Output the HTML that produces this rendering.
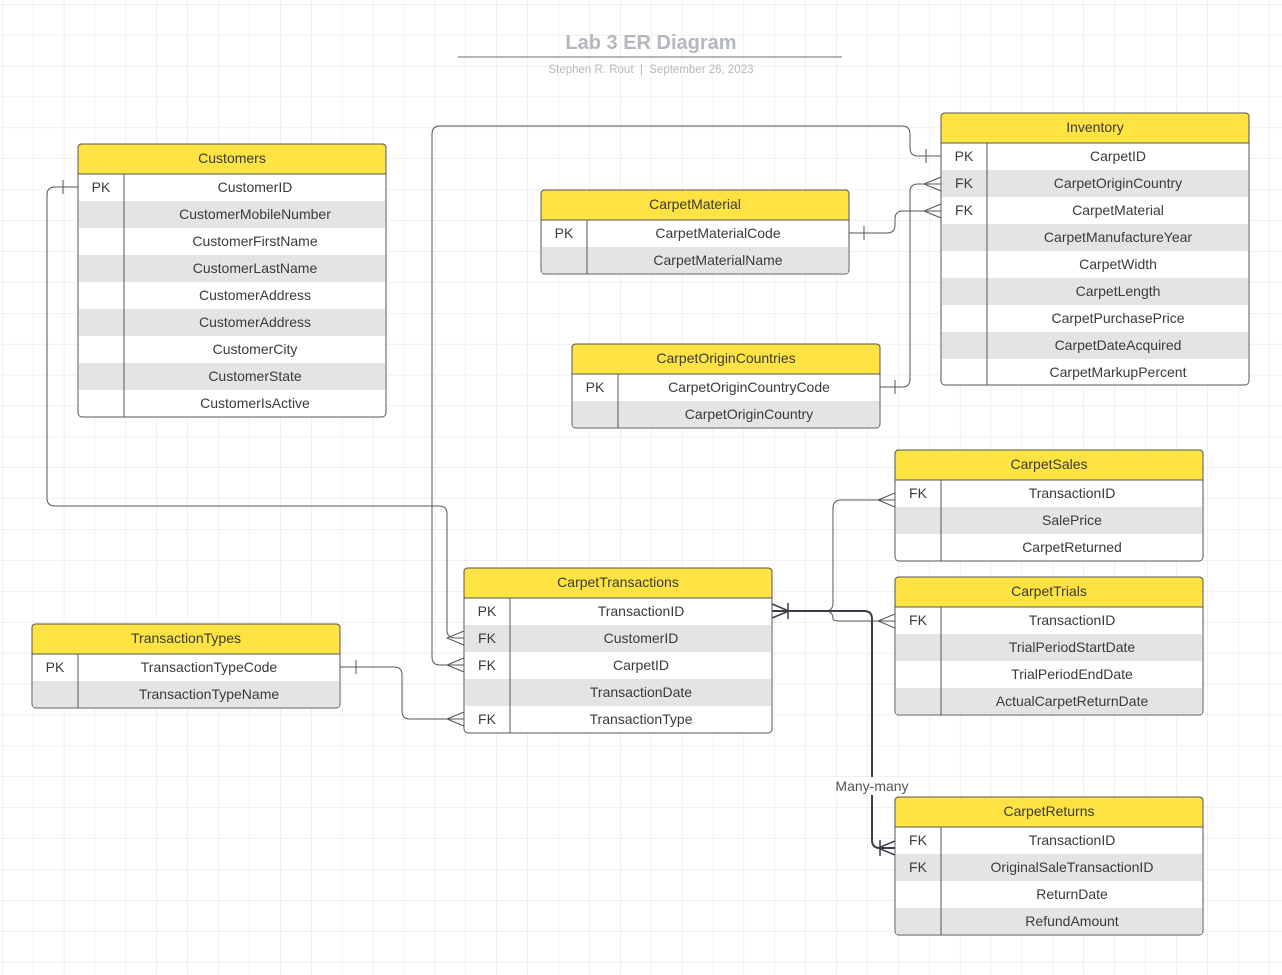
<!DOCTYPE html>
<html><head><meta charset="utf-8"><style>
html,body{margin:0;padding:0;background:#fff}
svg{display:block}
text{font-family:"Liberation Sans",sans-serif;font-size:14px;fill:#3a3a3a}
.h{fill:#ffe342;stroke:#555;stroke-width:1}
.b{fill:#fff;stroke:#555;stroke-width:1}
.g{fill:#e4e4e4}
.c{fill:none;stroke:#555;stroke-width:1}
.t{text-anchor:middle}
</style></head><body>
<svg width="1282" height="975" xmlns="http://www.w3.org/2000/svg">
<defs><pattern id="grid" x="2" y="4" width="30.9" height="30.9" patternUnits="userSpaceOnUse"><path d="M0 0H31M0 0V31" stroke="#e2e2e2" stroke-width="1" fill="none"/></pattern></defs>
<rect width="1282" height="975" fill="url(#grid)"/>

<text x="651" y="49" class="t" style="font-size:20px;font-weight:bold;fill:#b4b8bd">Lab 3 ER Diagram</text>
<line x1="458" y1="57" x2="842" y2="57" stroke="#b4b8bd" stroke-width="2"/>
<text x="651" y="73" class="t" style="font-size:11.5px;fill:#b4b8bd">Stephen R. Rout&#160;&#160;|&#160;&#160;September 26, 2023</text>

<!-- connectors -->
<path class="c" d="M78 187H55Q47 187 47 195V498Q47 506 55 506H439Q447 506 447 514V630Q447 638 455 638H464"/>
<path class="c" d="M63 180V194M464 631L447 638L464 645"/>
<path class="c" d="M941 156H918Q910 156 910 148V134Q910 126 902 126H440Q432 126 432 134V657Q432 665 440 665H464"/>
<path class="c" d="M926 149V163M464 658L447 665L464 672"/>
<path class="c" d="M849 233H887Q895 233 895 225V219Q895 211 903 211H941"/>
<path class="c" d="M864 226V240M941 204L924 211L941 218"/>
<path class="c" d="M880 387H902Q910 387 910 379V192Q910 184 918 184H941"/>
<path class="c" d="M895 380V394M941 177L924 184L941 191"/>
<path class="c" d="M340 667H394Q402 667 402 675V711Q402 719 410 719H464"/>
<path class="c" d="M356 660V674M464 712L447 719L464 726"/>
<path class="c" d="M772 611H825Q833 611 833 603V508Q833 500 841 500H895"/>
<path class="c" d="M895 493L878 500L895 507"/>
<path class="c" d="M825 611Q833 611 833 619Q833 621 841 621H895"/>
<path class="c" d="M895 614L878 621L895 628"/>
<path d="M772 611H864Q872 611 872 619V840Q872 848 880 848H895" fill="none" stroke="#3a3f47" stroke-width="2"/>
<path d="M772 604L789 611L772 618M788 603V619M895 841L878 848L895 855M880 840V856" fill="none" stroke="#3a3f47" stroke-width="1.5"/>
<rect x="836" y="777" width="72" height="18" fill="#fff"/>
<text x="872" y="791" class="t" style="fill:#555">Many-many</text>

<!-- Customers -->
<rect class="b" x="78" y="144" width="308" height="273" rx="4"/>
<rect class="g" x="79" y="201" width="306" height="27"/><rect class="g" x="79" y="255" width="306" height="27"/><rect class="g" x="79" y="309" width="306" height="27"/><rect class="g" x="79" y="363" width="306" height="27"/>
<path class="h" d="M78 174V148Q78 144 82 144H382Q386 144 386 148V174Z"/>
<line x1="124" y1="174" x2="124" y2="417" stroke="#555"/>
<text x="232" y="163" class="t">Customers</text>
<text x="101" y="192" class="t">PK</text>
<text x="255" y="192" class="t">CustomerID</text>
<text x="255" y="219" class="t">CustomerMobileNumber</text>
<text x="255" y="246" class="t">CustomerFirstName</text>
<text x="255" y="273" class="t">CustomerLastName</text>
<text x="255" y="300" class="t">CustomerAddress</text>
<text x="255" y="327" class="t">CustomerAddress</text>
<text x="255" y="354" class="t">CustomerCity</text>
<text x="255" y="381" class="t">CustomerState</text>
<text x="255" y="408" class="t">CustomerIsActive</text>

<!-- Inventory -->
<rect class="b" x="941" y="113" width="308" height="272" rx="4"/>
<rect class="g" x="942" y="170" width="306" height="27"/><rect class="g" x="942" y="224" width="306" height="27"/><rect class="g" x="942" y="278" width="306" height="27"/><rect class="g" x="942" y="332" width="306" height="27"/>
<path class="h" d="M941 143V117Q941 113 945 113H1245Q1249 113 1249 117V143Z"/>
<line x1="987" y1="143" x2="987" y2="385" stroke="#555"/>
<text x="1095" y="132" class="t">Inventory</text>
<text x="964" y="161" class="t">PK</text><text x="964" y="188" class="t">FK</text><text x="964" y="215" class="t">FK</text>
<text x="1118" y="161" class="t">CarpetID</text>
<text x="1118" y="188" class="t">CarpetOriginCountry</text>
<text x="1118" y="215" class="t">CarpetMaterial</text>
<text x="1118" y="242" class="t">CarpetManufactureYear</text>
<text x="1118" y="269" class="t">CarpetWidth</text>
<text x="1118" y="296" class="t">CarpetLength</text>
<text x="1118" y="323" class="t">CarpetPurchasePrice</text>
<text x="1118" y="350" class="t">CarpetDateAcquired</text>
<text x="1118" y="377" class="t">CarpetMarkupPercent</text>

<!-- CarpetMaterial -->
<rect class="b" x="541" y="190" width="308" height="84" rx="4"/>
<rect class="g" x="542" y="247" width="306" height="26"/>
<path class="h" d="M541 220V194Q541 190 545 190H845Q849 190 849 194V220Z"/>
<line x1="587" y1="220" x2="587" y2="274" stroke="#555"/>
<text x="695" y="209" class="t">CarpetMaterial</text>
<text x="564" y="238" class="t">PK</text>
<text x="718" y="238" class="t">CarpetMaterialCode</text>
<text x="718" y="265" class="t">CarpetMaterialName</text>

<!-- CarpetOriginCountries -->
<rect class="b" x="572" y="344" width="308" height="84" rx="4"/>
<rect class="g" x="573" y="401" width="306" height="26"/>
<path class="h" d="M572 374V348Q572 344 576 344H876Q880 344 880 348V374Z"/>
<line x1="618" y1="374" x2="618" y2="428" stroke="#555"/>
<text x="726" y="363" class="t">CarpetOriginCountries</text>
<text x="595" y="392" class="t">PK</text>
<text x="749" y="392" class="t">CarpetOriginCountryCode</text>
<text x="749" y="419" class="t">CarpetOriginCountry</text>

<!-- CarpetSales -->
<rect class="b" x="895" y="450" width="308" height="111" rx="4"/>
<rect class="g" x="896" y="507" width="306" height="27"/>
<path class="h" d="M895 480V454Q895 450 899 450H1199Q1203 450 1203 454V480Z"/>
<line x1="941" y1="480" x2="941" y2="561" stroke="#555"/>
<text x="1049" y="469" class="t">CarpetSales</text>
<text x="918" y="498" class="t">FK</text>
<text x="1072" y="498" class="t">TransactionID</text>
<text x="1072" y="525" class="t">SalePrice</text>
<text x="1072" y="552" class="t">CarpetReturned</text>

<!-- CarpetTrials -->
<rect class="b" x="895" y="577" width="308" height="138" rx="4"/>
<rect class="g" x="896" y="634" width="306" height="27"/><rect class="g" x="896" y="688" width="306" height="26"/>
<path class="h" d="M895 607V581Q895 577 899 577H1199Q1203 577 1203 581V607Z"/>
<line x1="941" y1="607" x2="941" y2="715" stroke="#555"/>
<text x="1049" y="596" class="t">CarpetTrials</text>
<text x="918" y="625" class="t">FK</text>
<text x="1072" y="625" class="t">TransactionID</text>
<text x="1072" y="652" class="t">TrialPeriodStartDate</text>
<text x="1072" y="679" class="t">TrialPeriodEndDate</text>
<text x="1072" y="706" class="t">ActualCarpetReturnDate</text>

<!-- CarpetReturns -->
<rect class="b" x="895" y="797" width="308" height="138" rx="4"/>
<rect class="g" x="896" y="854" width="306" height="27"/><rect class="g" x="896" y="908" width="306" height="26"/>
<path class="h" d="M895 827V801Q895 797 899 797H1199Q1203 797 1203 801V827Z"/>
<line x1="941" y1="827" x2="941" y2="935" stroke="#555"/>
<text x="1049" y="816" class="t">CarpetReturns</text>
<text x="918" y="845" class="t">FK</text><text x="918" y="872" class="t">FK</text>
<text x="1072" y="845" class="t">TransactionID</text>
<text x="1072" y="872" class="t">OriginalSaleTransactionID</text>
<text x="1072" y="899" class="t">ReturnDate</text>
<text x="1072" y="926" class="t">RefundAmount</text>

<!-- CarpetTransactions -->
<rect class="b" x="464" y="568" width="308" height="165" rx="4"/>
<rect class="g" x="465" y="625" width="306" height="27"/><rect class="g" x="465" y="679" width="306" height="27"/>
<path class="h" d="M464 598V572Q464 568 468 568H768Q772 568 772 572V598Z"/>
<line x1="510" y1="598" x2="510" y2="733" stroke="#555"/>
<text x="618" y="587" class="t">CarpetTransactions</text>
<text x="487" y="616" class="t">PK</text><text x="487" y="643" class="t">FK</text><text x="487" y="670" class="t">FK</text><text x="487" y="724" class="t">FK</text>
<text x="641" y="616" class="t">TransactionID</text>
<text x="641" y="643" class="t">CustomerID</text>
<text x="641" y="670" class="t">CarpetID</text>
<text x="641" y="697" class="t">TransactionDate</text>
<text x="641" y="724" class="t">TransactionType</text>

<!-- TransactionTypes -->
<rect class="b" x="32" y="624" width="308" height="84" rx="4"/>
<rect class="g" x="33" y="681" width="306" height="26"/>
<path class="h" d="M32 654V628Q32 624 36 624H336Q340 624 340 628V654Z"/>
<line x1="78" y1="654" x2="78" y2="708" stroke="#555"/>
<text x="186" y="643" class="t">TransactionTypes</text>
<text x="55" y="672" class="t">PK</text>
<text x="209" y="672" class="t">TransactionTypeCode</text>
<text x="209" y="699" class="t">TransactionTypeName</text>
</svg>
</body></html>
